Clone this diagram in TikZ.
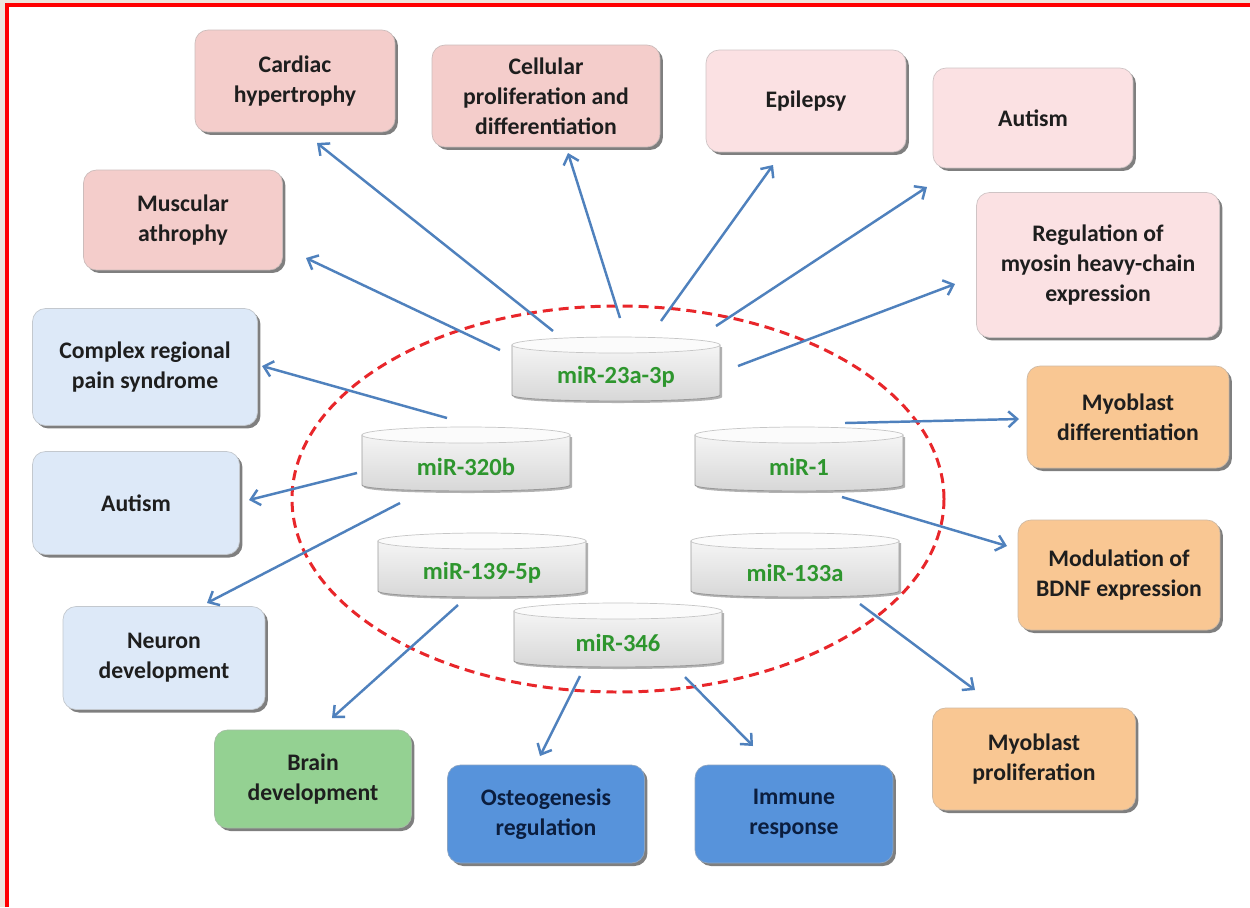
\documentclass[tikz,border=0pt]{standalone}
\usepackage{fontspec}
\setmainfont{Carlito}
\usetikzlibrary{shadows,arrows.meta}
\definecolor{bgbeige}{HTML}{EDE5DC}
\definecolor{framered}{HTML}{FF0000}
\definecolor{pinkD}{HTML}{F4CDCB}
\definecolor{pinkL}{HTML}{FBE1E3}
\definecolor{blueL}{HTML}{DDE9F8}
\definecolor{greenB}{HTML}{94D192}
\definecolor{blueD}{HTML}{5793DB}
\definecolor{orangeB}{HTML}{F9C793}
\definecolor{arrowblue}{HTML}{4F81BD}
\definecolor{mirgreen}{HTML}{2E962E}
\definecolor{ellred}{HTML}{E8262A}
\definecolor{txtdark}{HTML}{1E1E1E}
\definecolor{txtnavy}{HTML}{0B1E3F}
\newcommand\mirnode[4]{%
  \begin{scope}[shift={(#2,#3)}]
    \path[cylbody] (-104,-25) -- (-104,25) .. controls (-104,33) and (104,33) .. (104,25) -- (104,-25) -- cycle;
    \path[cyltop] (0,-25) ellipse [x radius=104, y radius=8];
  \end{scope}
  \node[mirtext] (#1) at (#2,#3+7) {#4};
}
\begin{document}
\begin{tikzpicture}[x=0.02cm,y=-0.02cm,
  box/.style={draw=#1!70!black!60, fill=#1, rounded corners=0.26cm, align=center,
    font=\bfseries\fontsize{13.5}{17}\selectfont, text=txtdark, inner sep=0pt,
    line width=0.4pt,
    drop shadow={shadow xshift=0.06cm, shadow yshift=-0.06cm, fill=black, opacity=0.5}},
  cylbody/.style={draw=gray!80, line width=0.5pt, top color=gray!8, bottom color=gray!32,
    drop shadow={shadow xshift=0.04cm, shadow yshift=-0.04cm, fill=black, opacity=0.3}},
  cyltop/.style={draw=gray!45, line width=0.4pt, fill=gray!3},
  mirtext/.style={font=\bfseries\fontsize{14}{16}\selectfont, text=mirgreen, inner sep=1pt},
  arr/.style={draw=arrowblue, line width=1.4pt, -{Straight Barb[length=5pt,width=9pt]}}]
\useasboundingbox (0,0) rectangle (1250,907);
\fill[bgbeige] (0,0) rectangle (1250,907);
\fill[white] (7,5) rectangle (1250,907);
\draw[framered, line width=2pt] (7,907) -- (7,5) -- (1250,5);

% boxes
\node[box=pinkD, minimum width=4cm, minimum height=2.04cm] (cardiac) at (295,81) {Cardiac\\hypertrophy};
\node[box=pinkD, minimum width=4.56cm, minimum height=2.04cm] (cellular) at (546,96) {Cellular\\proliferation and\\differentiation};
\node[box=pinkL, minimum width=4cm, minimum height=2.04cm] (epilepsy) at (806,101) {Epilepsy};
\node[box=pinkL, minimum width=4cm, minimum height=2cm] (autismR) at (1033,118) {Autism};
\node[box=pinkD, minimum width=3.98cm, minimum height=2cm] (muscular) at (183,220) {Muscular\\athrophy};
\node[box=pinkL, minimum width=4.86cm, minimum height=2.9cm] (myosin) at (1098,265) {Regulation of\\myosin heavy-chain\\expression};
\node[box=blueL, minimum width=4.5cm, minimum height=2.34cm] (crps) at (145,367) {Complex regional\\pain syndrome};
\node[box=blueL, minimum width=4.14cm, minimum height=2.06cm] (autismL) at (136,503) {Autism};
\node[box=blueL, minimum width=4.04cm, minimum height=2.06cm] (neuron) at (164,658) {Neuron\\development};
\node[box=greenB, minimum width=3.94cm, minimum height=1.96cm] (brain) at (313,779) {Brain\\development};
\node[box=blueD, text=txtnavy, minimum width=3.94cm, minimum height=1.96cm] (osteo) at (546,814) {Osteogenesis\\regulation};
\node[box=blueD, text=txtnavy, minimum width=3.96cm, minimum height=1.96cm] (immune) at (794,814) {Immune\\response};
\node[box=orangeB, minimum width=4.06cm, minimum height=2.04cm] (myoprol) at (1034,759) {Myoblast\\proliferation};
\node[box=orangeB, minimum width=4.04cm, minimum height=2.2cm] (bdnf) at (1119,575) {Modulation of\\BDNF expression};
\node[box=orangeB, minimum width=4.04cm, minimum height=2.04cm] (myodiff) at (1128,417) {Myoblast\\differentiation};

% dashed ellipse
\draw[ellred, line width=1.7pt, dash pattern=on 0.2cm off 0.12cm] (618,499) ellipse [x radius=326, y radius=193];

% miRNA cylinders
\mirnode{m23}{616}{370}{miR-23a-3p}
\mirnode{m320}{466}{460}{miR-320b}
\mirnode{m1}{799}{460}{miR-1}
\mirnode{m139}{482}{566}{miR-139-5p}
\mirnode{m133}{795}{566}{miR-133a}
\mirnode{m346}{618}{636}{miR-346}

% arrow end points
\coordinate (s1) at (553,331); \coordinate (e1) at (317,143);
\coordinate (s2) at (620,318); \coordinate (e2) at (568,153);
\coordinate (s3) at (661,321); \coordinate (e3) at (773,165);
\coordinate (s4) at (716,326); \coordinate (e4) at (927,187);
\coordinate (s5) at (738,366); \coordinate (e5) at (955,284);
\coordinate (s6) at (500,350); \coordinate (e6) at (306,258);
\coordinate (s7) at (447,418); \coordinate (e7) at (262,366);
\coordinate (s8) at (357,473); \coordinate (e8) at (249,500);
\coordinate (s9) at (400,503); \coordinate (e9) at (207,603);
\coordinate (s10) at (845,423); \coordinate (e10) at (1019,419);
\coordinate (s11) at (842,497); \coordinate (e11) at (1007,546);
\coordinate (s12) at (458,605); \coordinate (e12) at (332,718);
\coordinate (s13) at (860,604); \coordinate (e13) at (975,690);
\coordinate (s14) at (580,676); \coordinate (e14) at (540,756);
\coordinate (s15) at (685,677); \coordinate (e15) at (753,746);
\foreach \i in {1,...,15} {\draw[arr] (s\i) -- (e\i);}
\end{tikzpicture}
\end{document}
